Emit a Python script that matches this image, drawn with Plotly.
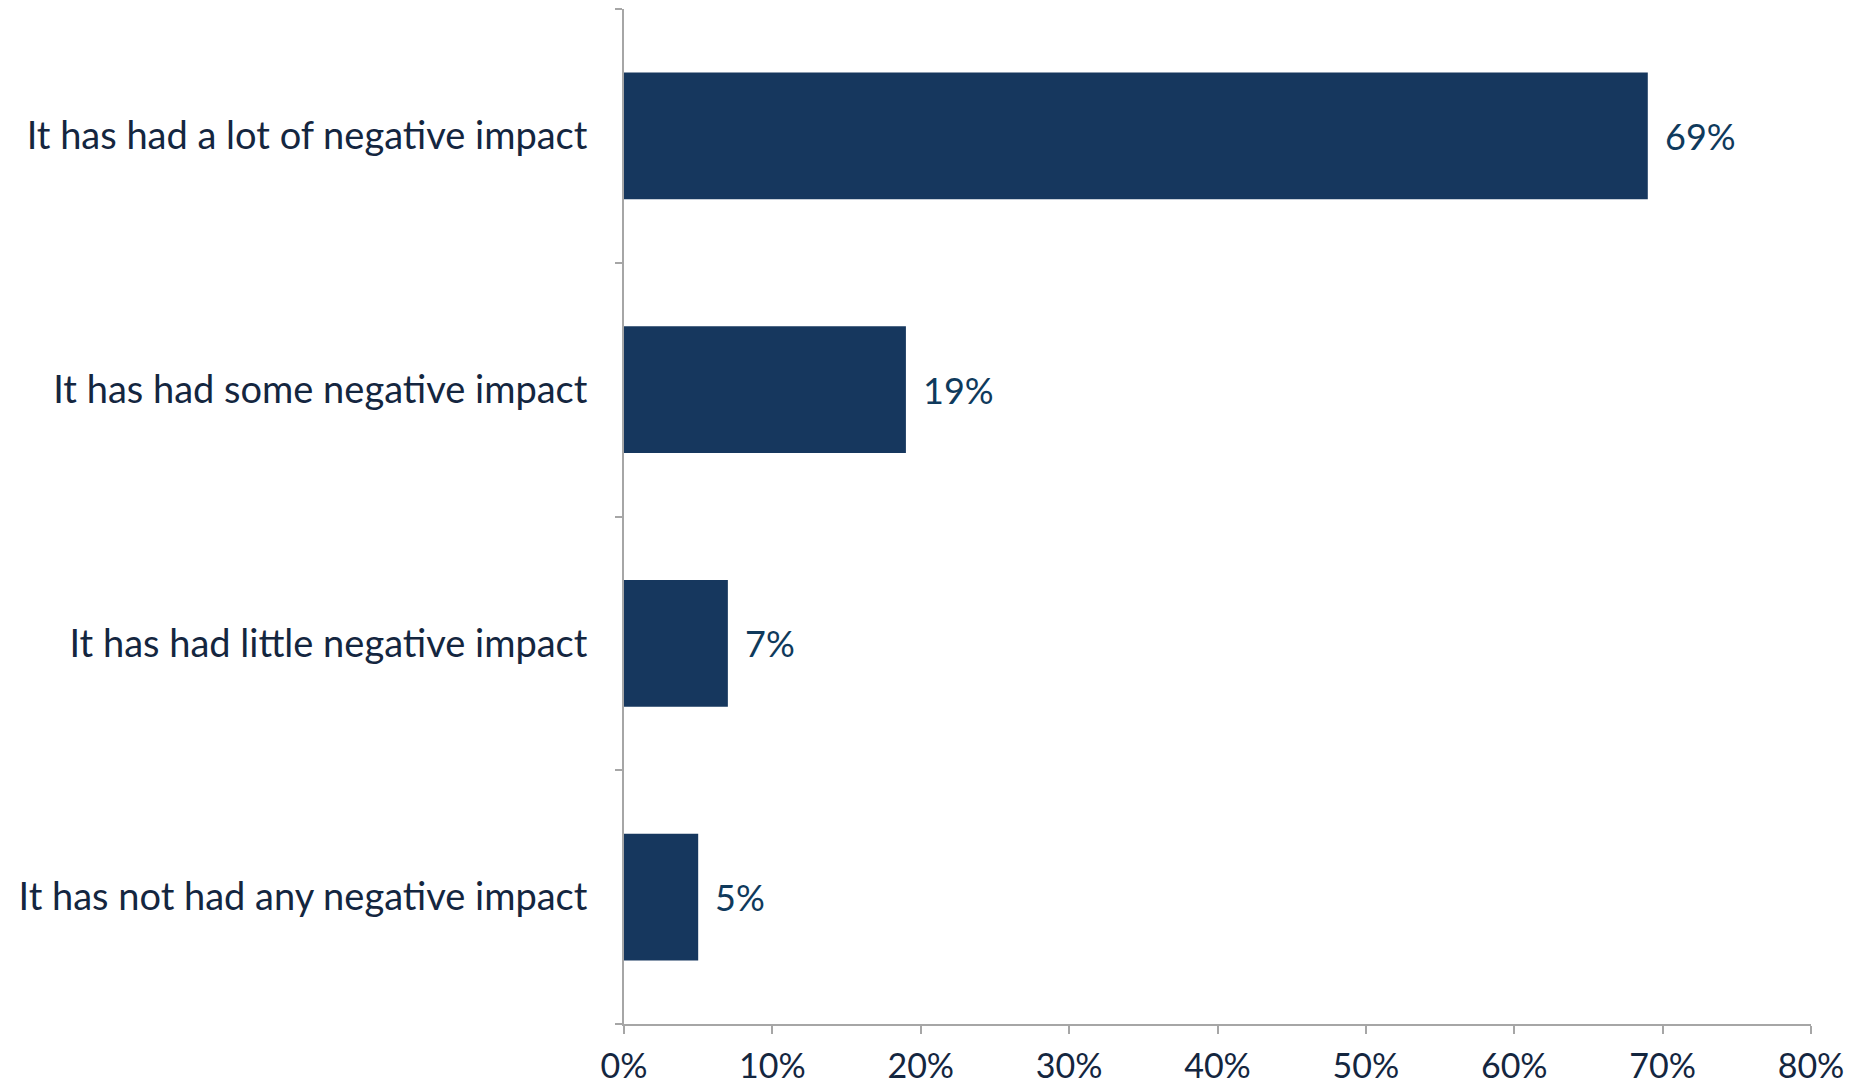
import plotly.graph_objects as go

categories = [
    "It has had a lot of negative impact",
    "It has had some negative impact",
    "It has had little negative impact",
    "It has not had any negative impact",
]
values = [0.69, 0.19, 0.07, 0.05]
labels = ["69%", "19%", "7%", "5%"]
x_ticks = [0, 0.1, 0.2, 0.3, 0.4, 0.5, 0.6, 0.7, 0.8]
x_tick_text = ["0%", "10%", "20%", "30%", "40%", "50%", "60%", "70%", "80%"]

font_family = "Lato, 'Open Sans', sans-serif"
bar_color = "#16375e"
text_color = "#14263f"
axis_color = "#a6a6a6"

fig = go.Figure(
    go.Bar(
        y=categories,
        x=values,
        orientation="h",
        width=0.5,
        marker=dict(color=bar_color, line=dict(width=0)),
        hoverinfo="skip",
    )
)

# value labels sit just past the end of each bar
for cat, val, lab in zip(categories, values, labels):
    fig.add_annotation(
        x=val, y=cat, text=lab, showarrow=False,
        xanchor="left", xshift=15,
        font=dict(family=font_family, size=36, color="#0f3a5c"),
    )

fig.update_xaxes(
    range=[0, 0.8],
    tickvals=x_ticks,
    ticktext=x_tick_text,
    showgrid=False,
    zeroline=False,
    showline=True,
    linecolor=axis_color,
    linewidth=2,
    ticks="outside",
    ticklen=8,
    tickcolor=axis_color,
    tickwidth=2,
    ticklabelstandoff=3,
    tickfont=dict(family=font_family, size=34, color=text_color),
)
fig.update_yaxes(
    categoryorder="array",
    categoryarray=categories[::-1],
    showgrid=False,
    zeroline=False,
    showline=True,
    linecolor=axis_color,
    linewidth=2,
    ticks="outside",
    ticklen=7,
    tickcolor=axis_color,
    tickwidth=2,
    tickson="boundaries",
    ticklabelstandoff=27,
    tickfont=dict(family=font_family, size=38, color=text_color),
)

fig.update_layout(
    width=1854,
    height=1085,
    margin=dict(l=616, r=51, t=1, b=69, autoexpand=False),
    plot_bgcolor="white",
    paper_bgcolor="white",
    showlegend=False,
    font=dict(family=font_family),
)

fig.write_html("out.html")
